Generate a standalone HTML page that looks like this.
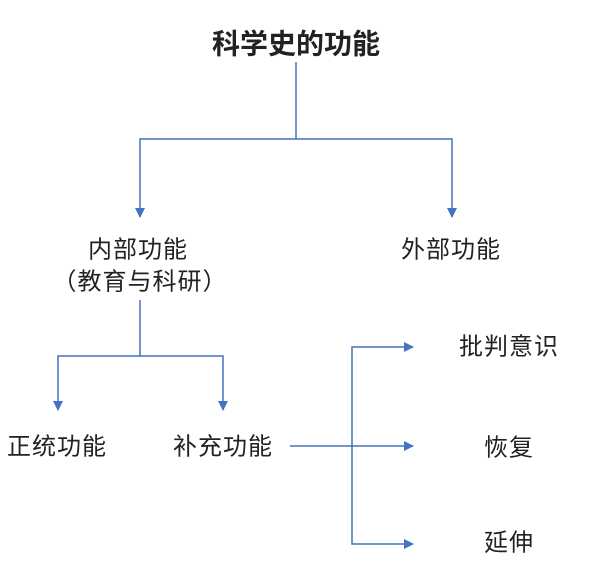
<!DOCTYPE html>
<html><head><meta charset="utf-8"><style>
html,body{margin:0;padding:0;background:#fff;}
svg{display:block}
text{font-family:"Liberation Sans","Noto Sans CJK SC",sans-serif;fill:#222;dominant-baseline:central;text-anchor:middle}
</style></head><body>
<svg width="602" height="588" viewBox="0 0 602 588" xmlns="http://www.w3.org/2000/svg">
<defs><marker id="a" markerWidth="10" markerHeight="10" refX="9" refY="5" orient="auto" markerUnits="userSpaceOnUse"><path d="M0,0 L10,5 L0,10 z" fill="#4472c4"/></marker></defs>
<g stroke="#4472c4" stroke-width="1.5" fill="none">
<line x1="296" y1="62" x2="296" y2="139"/>
<polyline points="296,139 140,139 140,217" marker-end="url(#a)"/>
<polyline points="296,139 452,139 452,217" marker-end="url(#a)"/>
<line x1="140" y1="300" x2="140" y2="356"/>
<polyline points="140,356 58,356 58,410" marker-end="url(#a)"/>
<polyline points="140,356 223,356 223,410" marker-end="url(#a)"/>
<line x1="290" y1="446" x2="413" y2="446" marker-end="url(#a)"/>
<polyline points="352,446 352,347 413,347" marker-end="url(#a)"/>
<polyline points="352,446 352,544 413,544" marker-end="url(#a)"/>
</g>
<text x="296" y="44" font-size="28" font-weight="bold">科学史的功能</text>
<text x="138" y="250" font-size="24" letter-spacing="1">内部功能</text>
<text x="140" y="282" font-size="24" letter-spacing="1">（教育与科研）</text>
<text x="451" y="250" font-size="24" letter-spacing="1">外部功能</text>
<text x="57" y="447" font-size="24" letter-spacing="1">正统功能</text>
<text x="223" y="447" font-size="24" letter-spacing="1">补充功能</text>
<text x="509" y="347" font-size="24" letter-spacing="1">批判意识</text>
<text x="509" y="448" font-size="24" letter-spacing="1">恢复</text>
<text x="509" y="543" font-size="24" letter-spacing="1">延伸</text>
</svg>
</body></html>
